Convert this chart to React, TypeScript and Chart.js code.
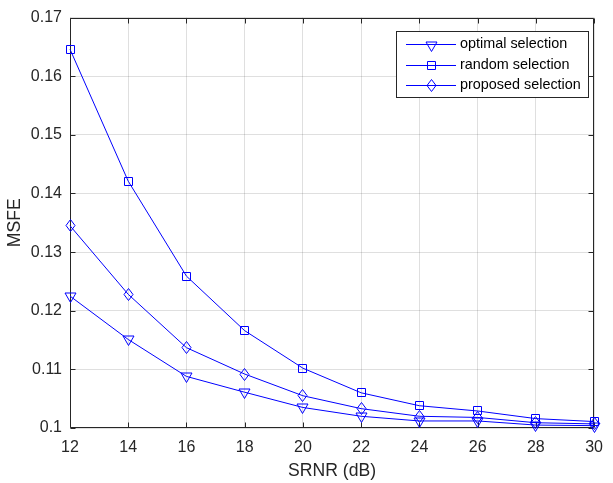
import React, { useEffect, useRef } from 'react';
import { Chart, registerables } from 'chart.js';

Chart.register(...registerables);

// ---- data ----
const snrDb = [12, 14, 16, 18, 20, 22, 24, 26, 28, 30];
const optimalSelection = [0.1225, 0.1151, 0.1088, 0.1061, 0.1035, 0.1020, 0.1012, 0.1012, 0.1005, 0.1004];
const randomSelection = [0.1646, 0.1421, 0.1259, 0.1166, 0.1102, 0.1060, 0.1038, 0.1029, 0.1016, 0.1011];
const proposedSelection = [0.1345, 0.1228, 0.1137, 0.1092, 0.1055, 0.1033, 0.1020, 0.1018, 0.1009, 0.1007];
const seriesLabels = ['optimal selection', 'random selection', 'proposed selection'];
const xTicks = [12, 14, 16, 18, 20, 22, 24, 26, 28, 30];
const yTicks = [0.1, 0.11, 0.12, 0.13, 0.14, 0.15, 0.16, 0.17];
const xTitle = 'SRNR (dB)';
const yTitle = 'MSFE';

const INK = '#262626';
const BLUE = '#0000ff';
const FONT = '"Liberation Sans", Arial, Helvetica, sans-serif';

function makeMarker(kind: string, color: string): HTMLCanvasElement {
  const c = document.createElement('canvas');
  let w = 11, h = 11;
  if (kind === 'v') { w = 13; h = 14; }
  if (kind === 'd') { w = 11; h = 15; }
  c.width = w; c.height = h;
  const g = c.getContext('2d')!;
  g.strokeStyle = color;
  g.lineWidth = 1;
  g.beginPath();
  if (kind === 'v') {
    g.moveTo(1, 4); g.lineTo(12, 4); g.lineTo(6.5, 13.5); g.closePath();
  } else if (kind === 's') {
    g.rect(1.5, 1.5, 8, 8);
  } else {
    g.moveTo(5.5, 1.5); g.lineTo(10, 7.5); g.lineTo(5.5, 13.5); g.lineTo(1, 7.5); g.closePath();
  }
  g.stroke();
  return c;
}

const boxPlugin = {
  id: 'matlabBox',
  beforeDatasetsDraw(chart: any) {
    const { ctx, chartArea: a, scales } = chart;
    const L = Math.round(a.left) + 0.5, R = Math.round(a.right) - 0.5;
    const T = Math.round(a.top) + 0.5, B = Math.round(a.bottom) - 0.5;
    const tl = 5;
    ctx.save();
    ctx.strokeStyle = INK;
    ctx.lineWidth = 1;
    ctx.beginPath();
    ctx.rect(L, T, R - L, B - T);
    for (const v of xTicks) {
      const px = Math.round(scales.x.getPixelForValue(v)) + 0.5;
      ctx.moveTo(px, B); ctx.lineTo(px, B - tl);
      ctx.moveTo(px, T); ctx.lineTo(px, T + tl);
    }
    for (const v of yTicks) {
      const py = Math.round(scales.y.getPixelForValue(v)) + 0.5;
      ctx.moveTo(L, py); ctx.lineTo(L + tl, py);
      ctx.moveTo(R, py); ctx.lineTo(R - tl, py);
    }
    ctx.stroke();
    ctx.restore();
    ctx.imageSmoothingEnabled = false;
  },
  afterDatasetsDraw(chart: any) {
    chart.ctx.imageSmoothingEnabled = true;
  },
};

const legendPlugin = {
  id: 'matlabLegend',
  afterDraw(chart: any) {
    const { ctx, chartArea: a } = chart;
    const ds = chart.data.datasets;
    ctx.save();
    ctx.font = `14.4px ${FONT}`;
    const tw = Math.max(...ds.map((d: any) => ctx.measureText(d.label).width));
    const right = Math.round(a.right) - 6;
    const top = Math.round(a.top) + 13;
    const w = Math.round(10 + 50 + 4 + tw + 7);
    const h = 66;
    const left = right - w;
    ctx.fillStyle = '#ffffff';
    ctx.fillRect(left, top, w, h);
    ctx.strokeStyle = INK;
    ctx.lineWidth = 1;
    ctx.strokeRect(left + 0.5, top + 0.5, w, h);
    ds.forEach((d: any, i: number) => {
      const y = Math.round(top + 13 + i * 20.5) + 0.5;
      ctx.strokeStyle = BLUE;
      ctx.lineWidth = 1;
      ctx.beginPath();
      ctx.moveTo(left + 10, y);
      ctx.lineTo(left + 60, y);
      ctx.stroke();
      const img = d.pointStyle as HTMLCanvasElement;
      ctx.drawImage(img, Math.round(left + 35 - img.width / 2), Math.round(y - img.height / 2));
      ctx.fillStyle = '#000000';
      ctx.textBaseline = 'middle';
      ctx.textAlign = 'left';
      ctx.fillText(d.label, left + 64, y);
    });
    ctx.restore();
  },
};

export default function App() {
  const ref = useRef<HTMLCanvasElement | null>(null);

  useEffect(() => {
    if (!ref.current) return;
    const mk = (vals: number[]) => snrDb.map((x, i) => ({ x, y: vals[i] }));
    const markers = [makeMarker('v', BLUE), makeMarker('s', BLUE), makeMarker('d', BLUE)];
    const series = [optimalSelection, randomSelection, proposedSelection];
    const chart = new Chart(ref.current, {
      type: 'line',
      data: {
        datasets: series.map((s, i) => ({
          label: seriesLabels[i],
          data: mk(s),
          borderColor: BLUE,
          backgroundColor: 'transparent',
          borderWidth: 1,
          pointStyle: markers[i] as any,
          pointRadius: 5,
          pointHoverRadius: 5,
          tension: 0,
          fill: false,
          clip: false as any,
        })),
      },
      options: {
        responsive: false,
        animation: false,
        devicePixelRatio: 1,
        layout: { padding: { top: 10, right: 13, left: 0, bottom: 0 } },
        plugins: { legend: { display: false }, tooltip: { enabled: false } },
        events: [],
        scales: {
          x: {
            type: 'linear',
            min: 12,
            max: 30,
            afterBuildTicks: (s: any) => { s.ticks = xTicks.map((v) => ({ value: v })); },
            afterFit: (s: any) => { s.height = 55; },
            grid: { color: 'rgba(38,38,38,0.15)', drawTicks: false, lineWidth: 1 },
            border: { display: false },
            ticks: {
              padding: 10,
              color: INK,
              font: { family: FONT, size: 16 },
              maxRotation: 0,
              callback: (v: any) => String(v),
            },
            title: {
              display: true,
              text: xTitle,
              color: INK,
              font: { family: FONT, size: 17.6 },
              padding: { top: 0, bottom: 1 },
            },
          },
          y: {
            type: 'linear',
            min: 0.1,
            max: 0.17,
            afterBuildTicks: (s: any) => { s.ticks = yTicks.map((v) => ({ value: v })); },
            afterFit: (s: any) => { s.width = 70; },
            grid: { color: 'rgba(38,38,38,0.15)', drawTicks: false, lineWidth: 1 },
            border: { display: false },
            ticks: {
              padding: 8,
              color: INK,
              font: { family: FONT, size: 16 },
              callback: (v: any) => String(Number(Number(v).toFixed(3))),
            },
            title: {
              display: true,
              text: yTitle,
              color: INK,
              font: { family: FONT, size: 17.6 },
              padding: { top: 5, bottom: 0 },
            },
          },
        },
      },
      plugins: [boxPlugin, legendPlugin],
    });
    return () => chart.destroy();
  }, []);

  return (
    <div style={{ position: 'absolute', left: 0, top: 0, width: 613, height: 483, background: '#ffffff' }}>
      <canvas ref={ref} width={613} height={483} style={{ display: 'block' }} />
    </div>
  );
}
